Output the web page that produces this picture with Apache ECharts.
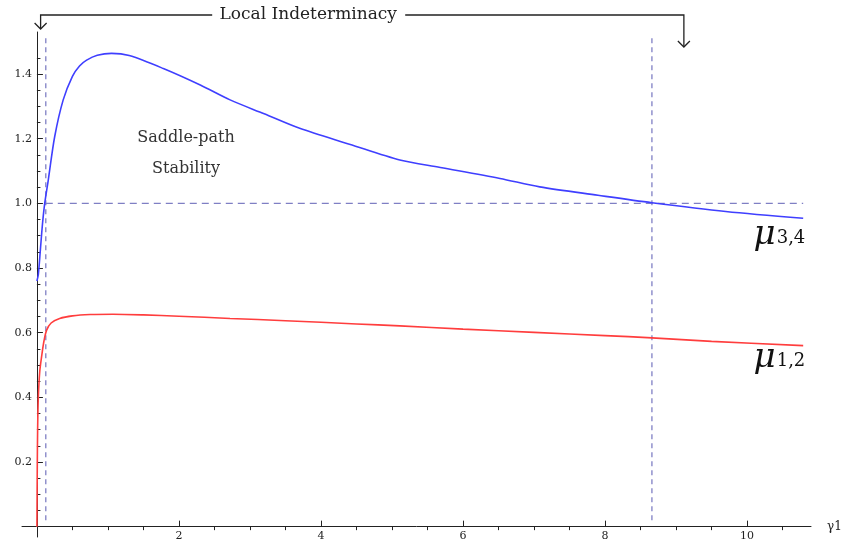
<!DOCTYPE html>
<html>
<head>
<meta charset="utf-8">
<script src="https://cdn.jsdelivr.net/npm/echarts@6/dist/echarts.min.js"></script>
<style>
  html, body { margin: 0; padding: 0; background: #fff; }
  #chart { width: 843px; height: 548px; }
</style>
</head>
<body>
<div id="chart"></div>
<script>
// mu_{3,4} (blue), x = gamma1
const mu34X = [0, 0.02, 0.05, 0.08, 0.11, 0.16, 0.25, 0.37, 0.5, 0.6, 0.7, 0.85, 1.05, 1.3, 1.78, 2.3, 2.72, 3.2, 3.7, 4.4, 5.11, 5.68, 6.52, 7.08, 7.9, 8.66, 9.7, 10.79];
const mu34Y = [0.76, 0.78, 0.86, 0.94, 1.0, 1.072, 1.206, 1.32, 1.393, 1.425, 1.443, 1.458, 1.464, 1.457, 1.417, 1.366, 1.32, 1.277, 1.232, 1.183, 1.134, 1.111, 1.077, 1.051, 1.025, 1.002, 0.975, 0.954];

// mu_{1,2} (red)
const mu12X = [0, 0.005, 0.01, 0.02, 0.04, 0.066, 0.1, 0.137, 0.2, 0.32, 0.5, 0.75, 1.07, 1.5, 2, 2.72, 3.5, 4.5, 5.11, 6, 7, 8, 8.66, 9.5, 10.79];
const mu12Y = [0, 0.18, 0.3, 0.4, 0.48, 0.526, 0.575, 0.608, 0.63, 0.644, 0.652, 0.656, 0.657, 0.655, 0.651, 0.644, 0.637, 0.627, 0.621, 0.611, 0.601, 0.591, 0.584, 0.573, 0.56];

// bounds of the saddle-path region and the unit-modulus level
const boundX = [0.125, 8.66];
const boundYRange = [0.02, 1.515];
const unitLevel = 1.0;
const unitXRange = [0.125, 10.79];

// ticks
const xTickLabels = [2, 4, 6, 8, 10];
const xTicks = [0.5, 1, 1.5, 2.5, 3, 3.5, 4.5, 5, 5.5, 6.5, 7, 7.5, 8.5, 9, 9.5, 10.5];
const yTickLabels = [0.2, 0.4, 0.6, 0.8, 1.0, 1.2, 1.4];
const yTicks = [0.05, 0.1, 0.15, 0.25, 0.3, 0.35, 0.45, 0.5, 0.55, 0.65, 0.7, 0.75, 0.85, 0.9, 0.95, 1.05, 1.1, 1.15, 1.25, 1.3, 1.35, 1.45];

// annotation anchors (data x of the two arrows, centre of bracket text)
const bracketX = [0.052, 9.11];
const bracketTextX = 3.82;
const saddleTextX = 2.1;
const curveLabels = [
  { sub: "3,4", x: 10.82, y: 0.85 },
  { sub: "1,2", x: 10.82, y: 0.468 }
];

const zip = (xs, ys) => xs.map((x, i) => [x, ys[i]]);

const serif = "DejaVu Serif";
const axisColor = "#222";
const guideColor = "#7f7fc4";

const chart = echarts.init(document.getElementById("chart"));

const guideLine = (data, dash) => ({
  type: "line",
  data: data,
  showSymbol: false,
  silent: true,
  lineStyle: { color: guideColor, width: 1.3, type: dash },
  z: 1
});

// second (hidden-label) axis pair carries the shorter minor ticks
const baseX = {
  type: "value",
  min: -0.21,
  max: 10.9,
  axisLine: { onZero: true, lineStyle: { color: axisColor, width: 1 } },
  splitLine: { show: false }
};
const baseY = {
  type: "value",
  min: -0.032,
  max: 1.53,
  axisLine: { show: true, onZero: true, lineStyle: { color: axisColor, width: 1 } },
  splitLine: { show: false }
};

chart.setOption({
  animation: false,
  grid: { left: 22, right: 32, top: 32, bottom: 11, outerBoundsMode: "none", containLabel: false },
  xAxis: [
    Object.assign({}, baseX, {
      name: "γ1",
      nameLocation: "end",
      nameGap: 16,
      nameTextStyle: { fontFamily: serif, fontSize: 12, color: axisColor, padding: [0, 0, 4, 0] },
      axisTick: { customValues: xTickLabels, inside: true, length: 6, lineStyle: { color: axisColor } },
      axisLabel: { customValues: xTickLabels, margin: -6, fontFamily: serif, fontSize: 11, color: axisColor }
    }),
    Object.assign({}, baseX, {
      axisLine: { show: false, onZero: true },
      axisTick: { customValues: xTicks, inside: true, length: 3.5, lineStyle: { color: axisColor } },
      axisLabel: { show: false }
    })
  ],
  yAxis: [
    Object.assign({}, baseY, {
      axisTick: { show: true, customValues: yTickLabels, inside: true, length: 6, lineStyle: { color: axisColor } },
      axisLabel: {
        customValues: yTickLabels,
        margin: -10,
        fontFamily: serif,
        fontSize: 11,
        color: axisColor,
        formatter: (v) => v.toFixed(1)
      }
    }),
    Object.assign({}, baseY, {
      position: "left",
      axisLine: { show: false, onZero: true },
      axisTick: { show: true, customValues: yTicks, inside: true, length: 3.5, lineStyle: { color: axisColor } },
      axisLabel: { show: false }
    })
  ],
  series: [
    guideLine([[boundX[0], boundYRange[0]], [boundX[0], boundYRange[1]]], [5, 4]),
    guideLine([[boundX[1], boundYRange[0]], [boundX[1], boundYRange[1]]], [5, 4]),
    guideLine([[unitXRange[0], unitLevel], [unitXRange[1], unitLevel]], [7, 5]),
    {
      name: "mu34",
      type: "line",
      data: zip(mu34X, mu34Y),
      smooth: 0.3,
      showSymbol: false,
      lineStyle: { color: "#3f3fff", width: 1.6 },
      z: 3
    },
    {
      name: "mu12",
      type: "line",
      data: zip(mu12X, mu12Y),
      smooth: 0.3,
      showSymbol: false,
      lineStyle: { color: "#ff3d3d", width: 1.6 },
      z: 3
    }
  ]
});

// annotations placed from data coordinates
const px = (x, y) => chart.convertToPixel({ gridIndex: 0 }, [x, y]);
const lx = px(bracketX[0], 0)[0];
const rx = px(bracketX[1], 0)[0];
const tx = px(bracketTextX, 0)[0];
const sx = px(saddleTextX, 0)[0];
const topY = 15;
const arrowL = 29;
const arrowR = 47;
const lineStyle = { stroke: "#222", lineWidth: 1.3, fill: null };

const arrowHead = (x, y) => ({
  type: "polyline",
  shape: { points: [[x - 6, y - 6], [x, y], [x + 6, y - 6]] },
  style: lineStyle
});

const labelGraphics = curveLabels.map((l) => {
  const p = px(l.x, l.y);
  return {
    type: "text",
    x: p[0],
    y: p[1],
    style: {
      text: "{m|μ}{s|" + l.sub + "}",
      align: "right",
      verticalAlign: "bottom",
      rich: {
        m: { fontFamily: serif, fontStyle: "italic", fontSize: 34, fill: "#111", verticalAlign: "bottom" },
        s: { fontFamily: serif, fontSize: 18, fill: "#111", verticalAlign: "bottom", padding: [0, 0, 5, 1] }
      }
    }
  };
});

chart.setOption({
  graphic: [
    { type: "polyline", shape: { points: [[lx, arrowL], [lx, topY], [tx - 96, topY]] }, style: lineStyle },
    { type: "polyline", shape: { points: [[tx + 97, topY], [rx, topY], [rx, arrowR]] }, style: lineStyle },
    arrowHead(lx, arrowL),
    arrowHead(rx, arrowR),
    {
      type: "text",
      x: tx,
      y: topY,
      style: { text: "Local Indeterminacy", fontFamily: serif, fontSize: 17, fill: "#222", align: "center", verticalAlign: "middle" }
    },
    {
      type: "text",
      x: sx,
      y: 153,
      style: {
        text: "Saddle-path\nStability",
        fontFamily: serif,
        fontSize: 16,
        lineHeight: 31,
        fill: "#333",
        align: "center",
        verticalAlign: "middle"
      }
    }
  ].concat(labelGraphics)
});
</script>
</body>
</html>
